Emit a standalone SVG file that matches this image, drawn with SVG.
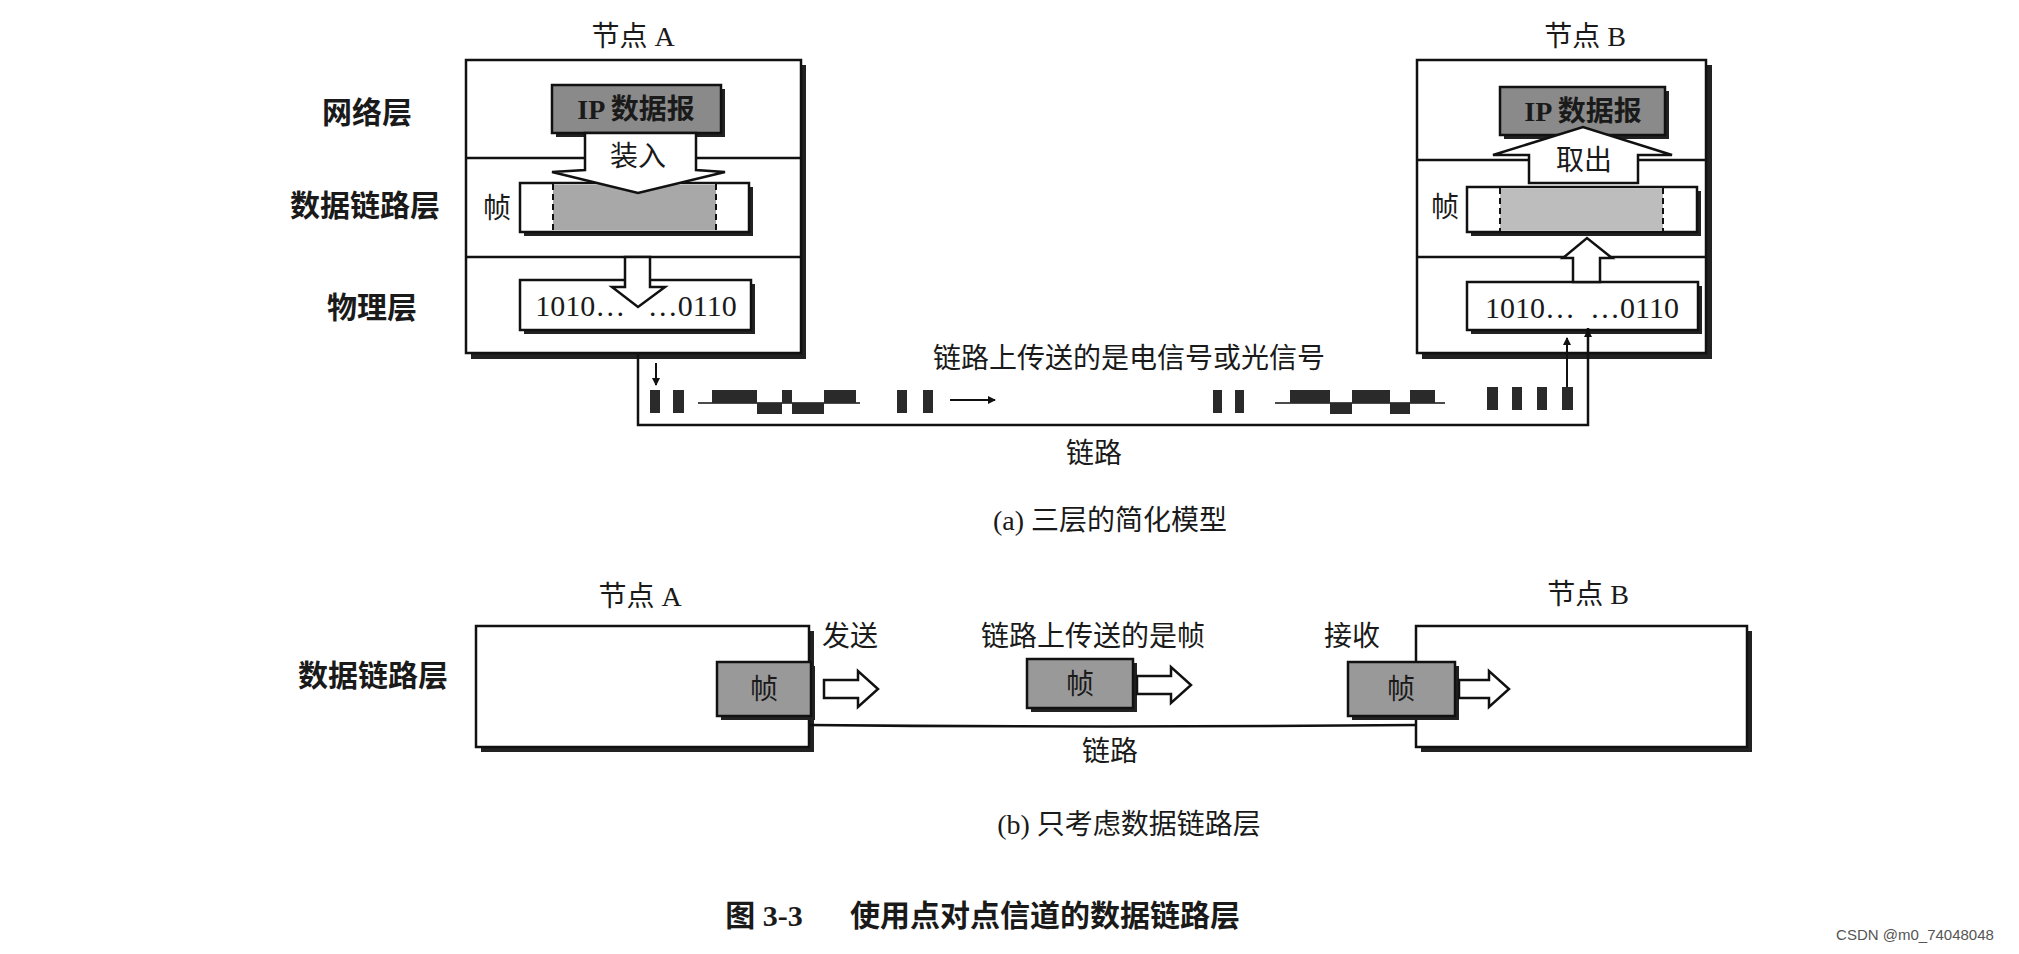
<svg xmlns="http://www.w3.org/2000/svg" width="2019" height="954" viewBox="0 0 2019 954">
<style>
text{font-family:"Liberation Serif","Noto Sans CJK SC",serif;fill:#1a1a1a;text-anchor:middle;dominant-baseline:central}
.lbl{font-size:30px;font-weight:bold}
.t{font-size:28px}
.box{fill:#fff;stroke:#111;stroke-width:2.5}
.sh{fill:#222}
.dark{fill:#8a8a8a;stroke:#111;stroke-width:2.5}
.fr{fill:#999;stroke:#111;stroke-width:2.5}
.gray{fill:#a8a8a8}
.ln{fill:none;stroke:#111;stroke-width:2.5}
.arr{fill:#fff;stroke:#111;stroke-width:2.5;stroke-linejoin:miter}
.blk{fill:#2a2a2a}
</style>
<defs>
<marker id="ah" markerWidth="8" markerHeight="8" refX="7" refY="4" orient="auto" markerUnits="userSpaceOnUse"><path d="M0,0 L8,4 L0,8 z" fill="#111"/></marker>
</defs>

<!-- (a) -->
<g id="labels-a">
<text class="lbl" x="367" y="112">网络层</text>
<text class="lbl" x="365" y="205">数据链路层</text>
<text class="lbl" x="372" y="307">物理层</text>
</g>

<g id="nodeA">
<text class="t" x="633" y="36">节点 A</text>
<rect class="sh" x="471" y="65" width="335" height="294"/>
<rect class="box" x="466" y="60" width="335" height="293"/>
<line class="ln" x1="466" y1="158" x2="801" y2="158"/>
<line class="ln" x1="466" y1="257" x2="801" y2="257"/>
<rect class="sh" x="556" y="89" width="169" height="48"/>
<rect class="dark" x="552" y="85" width="169" height="48"/>
<text class="t" x="636" y="109" style="font-weight:bold">IP 数据报</text>
<rect class="sh" x="524" y="187" width="229" height="49"/>
<rect class="box" x="520" y="183" width="229" height="49"/>
<rect class="gray" x="553" y="185" width="163" height="45"/>
<line x1="553" y1="184" x2="553" y2="231" stroke="#111" stroke-width="2" stroke-dasharray="6,4"/>
<line x1="716" y1="184" x2="716" y2="231" stroke="#111" stroke-width="2" stroke-dasharray="6,4"/>
<text class="t" x="497" y="208">帧</text>
<polygon class="arr" points="585,133 696,133 696,170 725,172 638,193 552,172 585,170"/>
<text class="t" x="638" y="156">装入</text>
<rect class="sh" x="524" y="284" width="231" height="50"/>
<rect class="box" x="520" y="280" width="231" height="50"/>
<polygon class="arr" points="625,257 650,257 650,287 665,287 638,307 612,287 625,287"/>
<text class="t" x="636" y="305" style="font-size:30px" xml:space="preserve">1010…   …0110</text>
</g>

<g id="nodeB">
<text class="t" x="1585" y="36">节点 B</text>
<rect class="sh" x="1422" y="65" width="290" height="294"/>
<rect class="box" x="1417" y="60" width="289" height="293"/>
<line class="ln" x1="1417" y1="160" x2="1706" y2="160"/>
<line class="ln" x1="1417" y1="257" x2="1706" y2="257"/>
<rect class="sh" x="1504" y="91" width="165" height="48"/>
<rect class="dark" x="1500" y="87" width="165" height="48"/>
<text class="t" x="1583" y="111" style="font-weight:bold">IP 数据报</text>
<rect class="sh" x="1471" y="191" width="230" height="45"/>
<rect class="box" x="1467" y="187" width="230" height="45"/>
<rect class="gray" x="1500" y="189" width="163" height="41" style="fill:#bdbdbd"/>
<line x1="1500" y1="188" x2="1500" y2="231" stroke="#111" stroke-width="2" stroke-dasharray="6,4"/>
<line x1="1663" y1="188" x2="1663" y2="231" stroke="#111" stroke-width="2" stroke-dasharray="6,4"/>
<text class="t" x="1445" y="207">帧</text>
<polygon class="arr" points="1529,183 1529,155 1493,155 1583,127 1672,155 1638,155 1638,183"/>
<text class="t" x="1584" y="160">取出</text>
<rect class="sh" x="1471" y="286" width="231" height="48"/>
<rect class="box" x="1467" y="282" width="231" height="48"/>
<polygon class="arr" points="1573,282 1573,258 1563,258 1587,238 1612,258 1600,258 1600,282"/>
<text class="t" x="1582" y="307" style="font-size:30px" xml:space="preserve">1010…  …0110</text>
</g>

<g id="connectors-a">
<polyline class="ln" points="638,353 638,425 1588,425 1588,328"/>
<line x1="1588" y1="345" x2="1588" y2="330" stroke="#111" stroke-width="2" marker-end="url(#ah)"/>
<line x1="656" y1="363" x2="656" y2="385" stroke="#111" stroke-width="2" marker-end="url(#ah)"/>
<line x1="1567" y1="388" x2="1567" y2="338" stroke="#111" stroke-width="2" marker-end="url(#ah)"/>
<line x1="950" y1="400" x2="995" y2="400" stroke="#111" stroke-width="2" marker-end="url(#ah)"/>
<rect class="blk" x="650" y="390" width="10" height="23"/>
<rect class="blk" x="673" y="390" width="11" height="23"/>
<rect class="blk" x="897" y="390" width="10" height="23"/>
<rect class="blk" x="923" y="390" width="10" height="23"/>
<rect class="blk" x="1213" y="390" width="9" height="23"/>
<rect class="blk" x="1235" y="390" width="9" height="23"/>
<rect class="blk" x="1487" y="387" width="11" height="23"/>
<rect class="blk" x="1512" y="387" width="10" height="23"/>
<rect class="blk" x="1537" y="387" width="10" height="23"/>
<rect class="blk" x="1562" y="387" width="11" height="23"/>
<line class="ln" x1="698" y1="403" x2="860" y2="403" style="stroke-width:1.5"/>
<path class="blk" d="M712,390h45v13h-45z M757,403h25v11h-25z M782,390h10v13h-10z M792,403h32v11h-32z M824,390h10v13h-10z M834,390h22v13h-22z"/>
<line class="ln" x1="1275" y1="403" x2="1445" y2="403" style="stroke-width:1.5"/>
<path class="blk" d="M1290,390h40v13h-40z M1330,403h22v11h-22z M1352,390h38v13h-38z M1390,403h20v11h-20z M1410,390h25v13h-25z"/>
<text class="t" x="1129" y="358">链路上传送的是电信号或光信号</text>
<text class="t" x="1094" y="453">链路</text>
<text class="t" x="1110" y="520">(a) 三层的简化模型</text>
</g>

<!-- (b) -->
<text class="lbl" x="373" y="675">数据链路层</text>
<g id="nodeA-b">
<text class="t" x="640" y="596">节点 A</text>
<rect class="sh" x="481" y="631" width="333" height="121"/>
<rect class="box" x="476" y="626" width="333" height="121"/>
</g>
<g id="nodeB-b">
<text class="t" x="1588" y="594">节点 B</text>
<rect class="sh" x="1421" y="631" width="331" height="121"/>
<rect class="box" x="1416" y="626" width="331" height="121"/>
</g>
<g id="connectors-b">
<path d="M809,725 Q1100,728 1416,725" class="ln"/>
<text class="t" x="1110" y="751">链路</text>
</g>
<g id="frames-b">
<rect class="sh" x="721" y="666" width="94" height="54"/>
<rect class="fr" x="717" y="662" width="94" height="54"/>
<text class="t" x="764" y="689">帧</text>
<polygon class="arr" points="824,680 858,680 858,671 878,689 858,707 858,698 824,698"/>
<rect class="sh" x="1031" y="663" width="106" height="49"/>
<rect class="fr" x="1027" y="659" width="106" height="49"/>
<text class="t" x="1080" y="684">帧</text>
<polygon class="arr" points="1137,676 1171,676 1171,667 1191,685 1171,703 1171,694 1137,694"/>
<rect class="sh" x="1352" y="666" width="107" height="54"/>
<rect class="fr" x="1348" y="662" width="107" height="54"/>
<text class="t" x="1401" y="689">帧</text>
<polygon class="arr" points="1459,680 1489,680 1489,671 1509,689 1489,707 1489,698 1459,698"/>
</g>
<text class="t" x="850" y="636">发送</text>
<text class="t" x="1093" y="636">链路上传送的是帧</text>
<text class="t" x="1352" y="636">接收</text>
<text class="t" x="1129" y="824">(b) 只考虑数据链路层</text>
<text class="t" x="764" y="915" style="font-size:30px;font-weight:bold">图 3-3</text>
<text class="t" x="850" y="915" style="font-size:30px;font-weight:bold;text-anchor:start">使用点对点信道的数据链路层</text>
<text x="1915" y="934" style="font-size:15px;font-family:'Liberation Sans',sans-serif;fill:#555">CSDN @m0_74048048</text>
</svg>
